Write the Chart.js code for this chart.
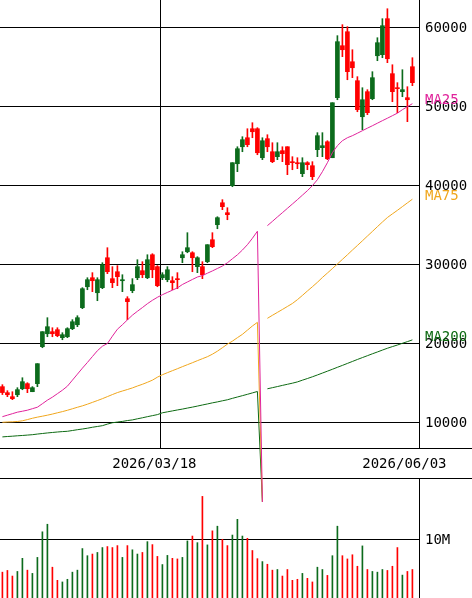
<!DOCTYPE html>
<html>
<head>
<meta charset="utf-8">
<script src="https://cdn.jsdelivr.net/npm/chart.js@4.4.0/dist/chart.umd.min.js"></script>
<style>
  html, body { margin: 0; padding: 0; background: #fff; }
  #wrap { width: 472px; height: 598px; }
</style>
</head>
<body>
<div id="wrap"><canvas id="c" width="472" height="598"></canvas></div>
<script>
// daily candles, oldest first (index 32 = 2026/03/18, last = 2026/06/03)
const opens = [14600,13840,13330,13580,14340,14980,13960,14980,19660,21300,
  21560,21810,20800,20920,21940,22440,24600,27250,28390,26490,
  27130,30920,28270,29150,28010,25730,26750,28390,29280,28390,
  31300,29790,28390,28140,28010,28270,30920,31680,31550,29790,
  29790,30420,33200,35100,37880,36620,40040,42820,44970,46110,
  47250,47250,43580,45990,44340,43710,44470,44970,43080,42950,
  41560,42950,42570,44600,44850,45600,43580,51180,57760,59530,
  55730,53330,48770,51940,51050,56490,56620,61180,54220,52440,
  51940,51180,55100];
const highs = [14850,14090,13960,14470,15730,15100,14600,17510,21560,23330,
  22060,22060,21430,22060,23080,23580,27130,28390,29030,28390,
  30290,32190,29790,29920,28770,25990,28270,30670,30420,31300,
  31430,29920,29030,29790,28520,29030,31680,34090,31680,31050,
  30420,32570,34090,36110,38270,37250,42950,44970,46240,47250,
  48010,47380,46110,46490,45480,45480,44970,44970,43710,43580,
  43580,43080,43080,46750,46750,45730,50540,59030,60420,60170,
  57250,53840,52440,52190,54470,58770,61180,62440,55350,53080,
  54720,52570,56240];
const lows = [13600,13330,12950,13330,14210,13840,13960,14600,19530,20920,
  20920,20920,20540,20800,21810,22190,24470,26870,26620,25480,
  27000,28900,27130,27380,26620,23080,26490,28140,28390,28270,
  28390,27250,28140,27880,26870,27000,30290,31550,29150,29030,
  28270,30290,32190,34590,37000,35730,39910,41810,44340,44970,
  46110,43960,43330,44340,42950,43330,43080,41430,42060,42190,
  41180,42060,40800,43710,43710,43330,43580,50920,56370,53450,
  53710,49400,47130,49030,50920,55860,56240,55610,50670,49280,
  51300,48140,52700];
const closes = [13850,13580,13080,14220,15230,14340,14470,17510,21560,22190,
  21300,21050,21180,21940,22820,23330,27000,28140,28010,28140,
  30040,29150,27760,28520,28140,25360,27510,29790,28770,30670,
  29400,27380,28770,29400,27760,28140,31300,32190,30920,30920,
  28770,32570,32320,35990,37380,36370,42950,44720,45860,45230,
  46870,44210,45730,44970,43080,44340,44090,42700,42950,42820,
  42950,42700,41180,46370,45100,43450,50540,58270,57250,54470,
  54970,49660,50920,49280,53710,58140,60290,56110,51940,52320,
  52190,50920,53080];
// volume in millions of shares
const volumes = [4.38,4.67,3.72,4.5,6.72,4.72,4.17,6.88,11.22,12.5,
  5.22,3.0,2.72,3.17,4.38,4.72,8.38,7.17,7.45,7.72,
  8.55,8.72,8.55,8.88,6.88,8.88,8.17,7.45,7.72,9.55,
  9.05,7.05,5.67,7.22,6.72,6.62,6.88,9.67,10.5,9.38,
  17.22,9.0,11.38,12.17,9.95,8.88,10.67,13.33,10.5,10.12,
  8.05,6.67,6.17,5.72,4.72,4.83,3.72,4.83,3.0,3.17,
  4.17,3.33,2.72,5.22,4.83,3.83,7.17,12.17,7.17,6.62,
  7.33,5.38,8.83,4.83,4.5,4.38,4.83,4.67,5.38,8.55,
  3.88,4.5,4.83];
// moving averages; the 0 at index 52 is the gap in the source data
const ma25 = [10800,10990,11180,11370,11490,11620,11810,12000,12440,12890,
  13270,13710,14150,14660,15420,16180,16940,17660,18410,19150,
  19720,20060,20990,21870,22440,23050,23650,24140,24610,25100,
  25530,25910,26240,26530,26810,27100,27530,27850,28170,28480,
  28660,28960,29250,29560,29870,30280,30790,31290,31890,32570,
  33380,34270,0,34980,35520,36080,36620,37170,37720,38270,
  38840,39410,40040,40800,41810,42950,44220,45100,45730,46110,
  46370,46680,47000,47320,47630,47950,48270,48580,48900,49220,
  49660,50040,50420];
const ma75 = [10090,10130,10150,10190,10280,10430,10600,10740,10860,10990,
  11130,11290,11440,11610,11800,11990,12170,12380,12610,12840,
  13080,13340,13600,13850,14050,14240,14440,14680,14900,15150,
  15420,15800,16110,16370,16620,16870,17130,17380,17630,17890,
  18140,18390,18710,19090,19530,19980,20360,20800,21220,21750,
  22280,22740,0,23250,23630,24000,24370,24750,25130,25610,
  26150,26710,27250,27810,28420,28980,29550,30130,30710,31290,
  31890,32470,33060,33660,34250,34850,35440,36010,36470,36920,
  37390,37860,38330];
const ma200 = [8240,8290,8330,8380,8420,8470,8520,8600,8670,8740,
  8800,8860,8910,8950,9050,9150,9240,9340,9460,9560,
  9660,9860,10030,10120,10200,10310,10390,10530,10660,10800,
  10930,11060,11290,11410,11530,11650,11760,11890,12010,12140,
  12280,12410,12550,12670,12810,12940,13120,13290,13460,13630,
  13810,13990,0,14330,14470,14610,14760,14900,15040,15200,
  15420,15630,15850,16080,16320,16560,16800,17050,17290,17540,
  17790,18040,18280,18520,18760,18990,19230,19460,19670,19870,
  20090,20300,20520];

const priceTicks = [10000, 20000, 30000, 40000, 50000, 60000];
const volumeTicks = [10];
const dateTicks = [
    { idx: 32, label: '2026/03/18' },
    { idx: 82, label: '2026/06/03' },
];

// ---- layout ----------------------------------------------------------------
const H = 598, W = 472;
const PRICE_BOTTOM = 448;   // bottom edge of the candle panel
const VOL_TOP = 478;        // top edge of the volume panel
const AXIS_W = 53;
const PRICE_MAX = 63544, PRICE_AT_BOTTOM = 6835;
const priceMin = PRICE_MAX - (PRICE_MAX - PRICE_AT_BOTTOM) * H / PRICE_BOTTOM;
const VOL_MAX = 10 * H / 59;

const FONT = { family: 'DejaVu Sans Mono', size: 14 };
const UP = '#0c6b1c', DOWN = '#ff0000';
const MA_LINES = [
    { label: 'MA25', data: ma25, color: '#e0239b' },
    { label: 'MA75', data: ma75, color: '#f0a61c' },
    { label: 'MA200', data: ma200, color: '#0d6a12' },
];

const colors = opens.map((o, i) => closes[i] >= o ? UP : DOWN);
const pts = arr => arr.map((v, i) => ({ x: i, y: v }));

function _line(ctx, x1, y1, x2, y2) {
    ctx.beginPath();
    ctx.moveTo(x1, y1);
    ctx.lineTo(x2, y2);
    ctx.stroke();
}

const framePlugin = {
    id: 'frame',
    beforeDatasetsDraw(chart) {
        const { ctx, chartArea: a, scales } = chart;
        ctx.save();
        ctx.strokeStyle = '#000';
        ctx.lineWidth = 1;
        _line(ctx, 0, PRICE_BOTTOM + 0.5, W, PRICE_BOTTOM + 0.5);
        _line(ctx, 0, VOL_TOP + 0.5, W, VOL_TOP + 0.5);
        const rx = Math.round(a.right) + 0.5;
        _line(ctx, rx, a.top, rx, PRICE_BOTTOM);
        _line(ctx, rx, VOL_TOP, rx, a.bottom);

        ctx.font = `${FONT.size}px ${FONT.family}`;
        ctx.fillStyle = '#000';
        ctx.textBaseline = 'middle';
        for (const v of volumeTicks) {
            const y = Math.round(scales.y2.getPixelForValue(v)) + 0.5;
            _line(ctx, a.left, y, a.right, y);
            ctx.textAlign = 'left';
            ctx.fillText(v + 'M', a.right + 6, y + 1);
        }

        const bandY = (PRICE_BOTTOM + VOL_TOP) / 2 + 1;
        dateTicks.forEach((t, k) => {
            const px = scales.x.getPixelForValue(t.idx);
            if (k < dateTicks.length - 1) {
                const lx = Math.round(px - 2) + 0.5;
                _line(ctx, lx, a.top, lx, PRICE_BOTTOM);
            }
            ctx.textAlign = 'center';
            ctx.fillText(t.label, px - 8, bandY);
        });
        ctx.restore();
    },
    afterDatasetsDraw(chart) {
        const { ctx, chartArea: a, scales } = chart;
        ctx.save();
        ctx.font = `${FONT.size}px ${FONT.family}`;
        ctx.textAlign = 'left';
        ctx.textBaseline = 'middle';
        for (const m of MA_LINES) {
            const last = m.data[m.data.length - 1];
            ctx.fillStyle = m.color;
            ctx.fillText(m.label, a.right + 6, scales.y.getPixelForValue(last) - 3);
        }
        ctx.restore();
    },
};

const datasets = [
    ...MA_LINES.map(m => ({
        type: 'line', label: m.label, data: pts(m.data), yAxisID: 'y',
        borderColor: m.color, borderWidth: 1, pointRadius: 0, tension: 0,
        segment: { borderColor: c => (c.p0.parsed.y === 0 ? 'rgba(0,0,0,0)' : undefined) },
    })),
    {
        type: 'bar', label: 'body', yAxisID: 'y', grouped: false,
        data: opens.map((o, i) => ({ x: i, y: [o, closes[i]] })),
        backgroundColor: colors, barThickness: 4, minBarLength: 1, borderWidth: 0,
    },
    {
        type: 'bar', label: 'wick', yAxisID: 'y', grouped: false,
        data: lows.map((l, i) => ({ x: i, y: [l, highs[i]] })),
        backgroundColor: colors, barThickness: 1, borderWidth: 0,
    },
    {
        type: 'bar', label: 'volume', yAxisID: 'y2', grouped: false,
        data: pts(volumes),
        backgroundColor: colors, barThickness: 1, borderWidth: 0,
    },
];

new Chart(document.getElementById('c'), {
    data: { datasets },
    options: {
        responsive: false, animation: false, events: [],
        layout: { padding: 0 },
        plugins: { legend: { display: false }, tooltip: { enabled: false } },
        scales: {
            x: { type: 'linear', min: -0.48, max: 83.32, offset: false, display: false },
            y: {
                type: 'linear', position: 'right', min: priceMin, max: PRICE_MAX,
                afterBuildTicks: s => { s.ticks = priceTicks.map(v => ({ value: v })); },
                afterFit: s => { s.width = AXIS_W; s.paddingTop = 0; s.paddingBottom = 0; },
                grid: { color: '#000', lineWidth: 1, drawTicks: false },
                border: { display: false },
                ticks: { color: '#000', padding: 6, font: FONT, callback: v => String(v) },
            },
            y2: { type: 'linear', min: 0, max: VOL_MAX, display: false },
        },
    },
    plugins: [framePlugin],
});
</script>
</body>
</html>
